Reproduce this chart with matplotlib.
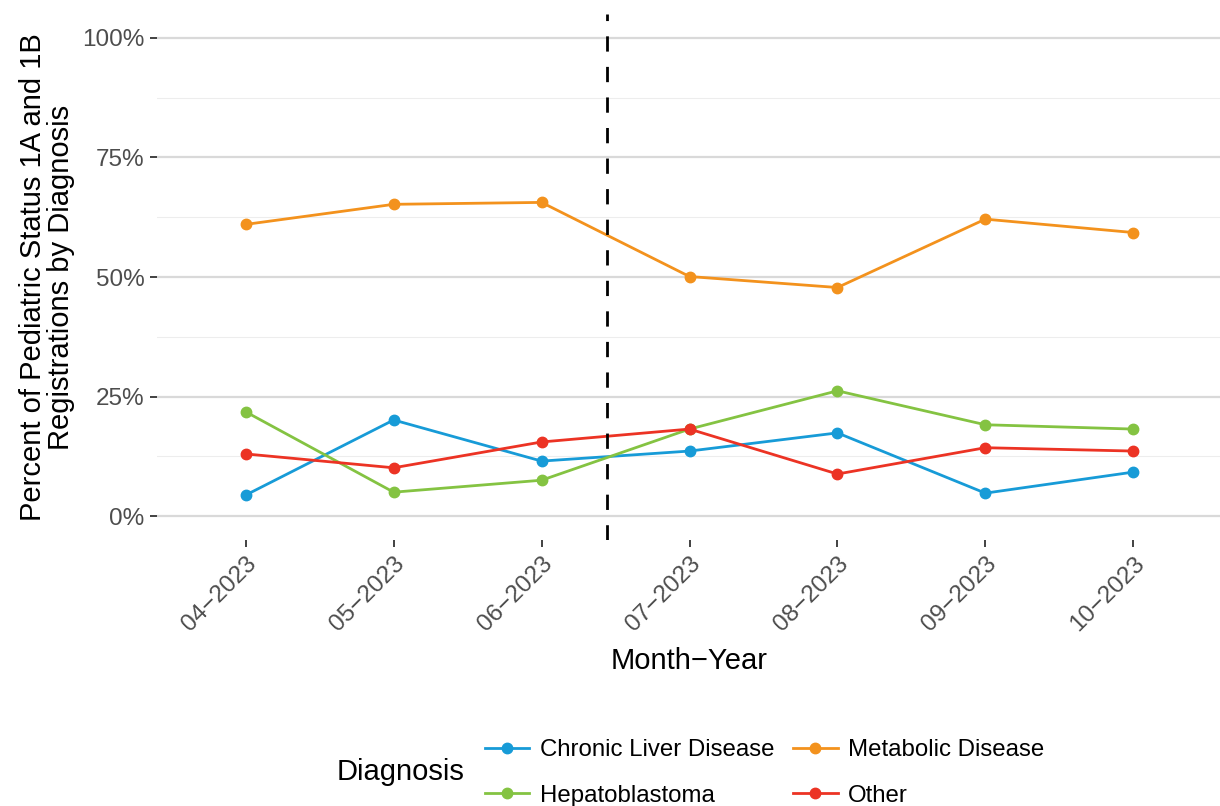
import matplotlib
matplotlib.use('Agg')
import matplotlib.pyplot as plt
from matplotlib.ticker import FixedLocator, PercentFormatter

plt.rcParams['font.family'] = ['Liberation Sans', 'DejaVu Sans']

months = ['04\u22122023', '05\u22122023', '06\u22122023', '07\u22122023',
          '08\u22122023', '09\u22122023', '10\u22122023']
chronic = [4.4, 20.1, 11.5, 13.6, 17.4, 4.8, 9.2]
hepato = [21.8, 5.0, 7.5, 18.2, 26.2, 19.1, 18.2]
metabolic = [61.0, 65.2, 65.6, 50.1, 47.8, 62.1, 59.3]
other = [13.0, 10.1, 15.5, 18.2, 8.8, 14.3, 13.6]
vline_pos = 2.44

series = [
    ('Chronic Liver Disease', chronic, '#179bd7'),
    ('Metabolic Disease', metabolic, '#f3921d'),
    ('Hepatoblastoma', hepato, '#84c342'),
    ('Other', other, '#ec3324'),
]

fig = plt.figure(figsize=(12.2, 8.06), dpi=100)
ax = fig.add_axes([157 / 1220, 1 - 540 / 806, (1222 - 157) / 1220, (540 - 14) / 806])

x = list(range(len(months)))
handles = {}
for name, vals, col in series:
    h, = ax.plot(x, vals, color=col, lw=2, marker='o', ms=7.5, zorder=3)
    handles[name] = h

ax.axvline(vline_pos, color='black', ls=(0, (5.5, 5.5)), lw=2, zorder=4)

ax.set_xlim(-0.6, len(months) - 0.4)
ax.set_ylim(-5, 105)
ax.set_xticks(x)
ax.set_xticklabels(months, rotation=45, ha='right', va='top', rotation_mode='anchor')
ax.yaxis.set_major_locator(FixedLocator([0, 25, 50, 75, 100]))
ax.yaxis.set_minor_locator(FixedLocator([12.5, 37.5, 62.5, 87.5]))
ax.yaxis.set_major_formatter(PercentFormatter(decimals=0))
ax.grid(axis='y', which='major', color='#d9d9d9', lw=1.6, zorder=0)
ax.grid(axis='y', which='minor', color='#ededed', lw=0.8, zorder=0)
ax.tick_params(axis='both', which='major', labelsize=17.5, labelcolor='#4d4d4d',
               color='#333333', length=5, width=1.3, pad=4)
ax.tick_params(axis='y', which='minor', length=0)
for s in ax.spines.values():
    s.set_visible(False)

ax.set_xlabel('Month\u2212Year', fontsize=21, labelpad=8)
ax.set_ylabel('Percent of Pediatric Status 1A and 1B\nRegistrations by Diagnosis',
              fontsize=21, labelpad=5, linespacing=1.0)

order = ['Chronic Liver Disease', 'Hepatoblastoma', 'Metabolic Disease', 'Other']
fig.legend([handles[n] for n in order], order, ncol=2, loc='center left',
           bbox_to_anchor=(485 / 1220, 1 - 773 / 806), frameon=False,
           fontsize=17.3, borderpad=0, borderaxespad=0, handlelength=1.85,
           handletextpad=0.42, columnspacing=0.8, labelspacing=0.97)
fig.text(401 / 1220, 1 - 772 / 806, 'Diagnosis', fontsize=21, ha='center', va='center')

fig.savefig('out.png', dpi=100)
